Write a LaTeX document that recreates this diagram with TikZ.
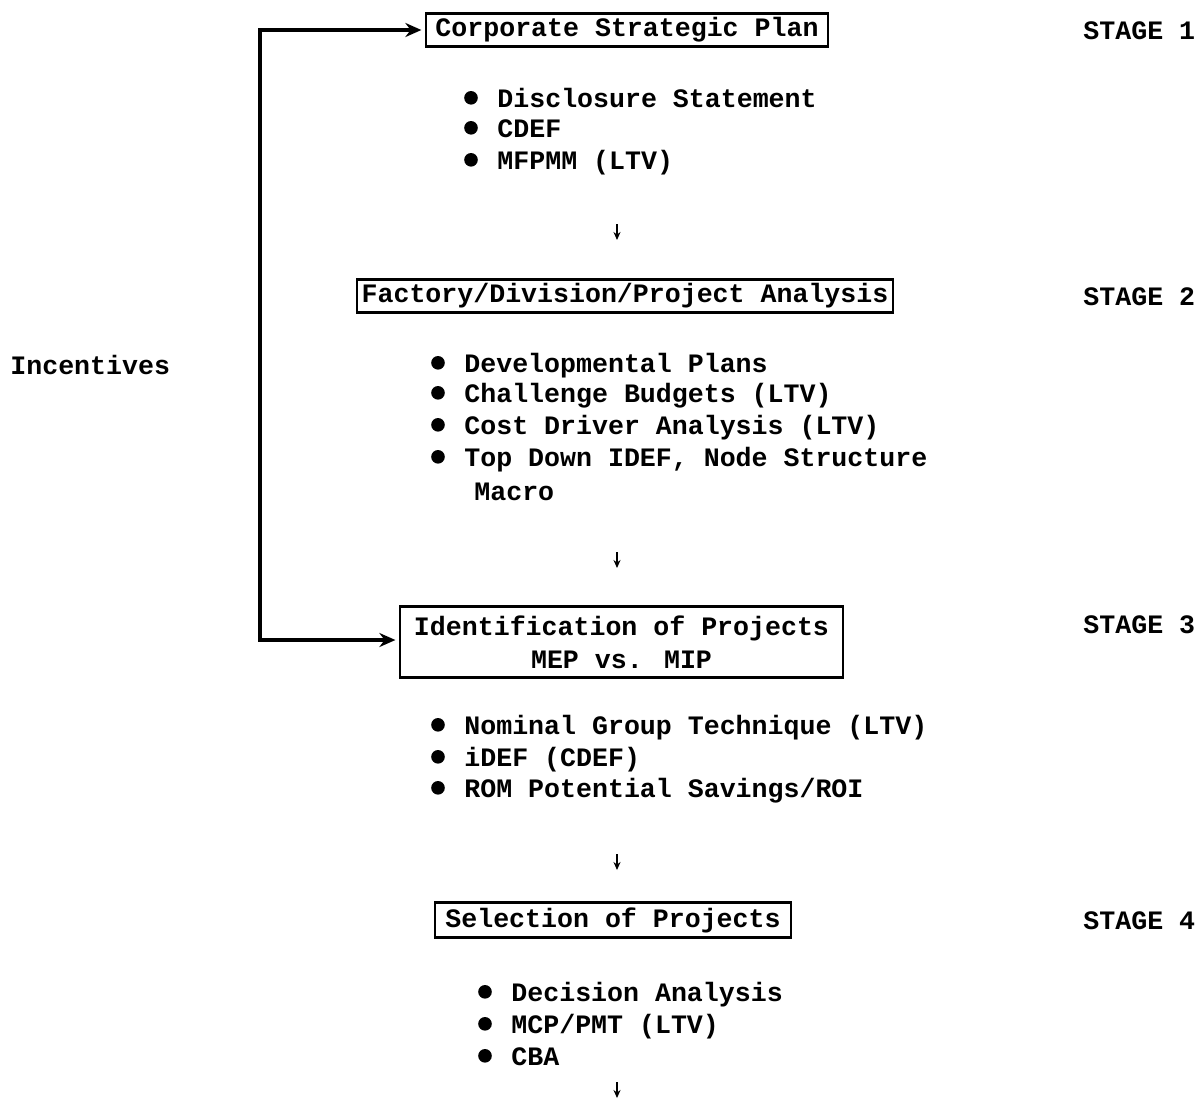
\documentclass[tikz,border=0pt]{standalone}
\usepackage{fontspec}
\setmainfont{Liberation Mono}
\usetikzlibrary{arrows.meta}

% one list entry: a text line with a round bullet in front of it
\newcommand\listline[4]{%
  \node[item] (#1) at (#2,#3) {#4};
  \fill ([xshift=-13pt,yshift=4.6pt]#1.base west) circle (3.4pt);
}

\begin{document}
\begin{tikzpicture}[x=0.5pt,y=-0.5pt,
  font=\fontsize{13.3}{16}\selectfont\bfseries,
  item/.style={anchor=base west, inner sep=0pt},
  label/.style={anchor=base west, inner sep=0pt},
  stagebox/.style={draw, line width=0.6pt, inner sep=0pt, align=center},
  rule/.style={line width=1.6pt},
  fb/.style={line width=1.7pt, -{Stealth[length=8pt,width=7pt]}, shorten >=2pt},
  tiny/.style={line width=0.8pt, -{Stealth[length=4pt,width=3.5pt]}}]

\useasboundingbox (0,0) rectangle (1197,1098);

% stage boxes
\node[stagebox, minimum width=201pt, minimum height=16pt] (b1) at (627,30) {Corporate Strategic Plan};
\node[stagebox, minimum width=268pt, minimum height=16pt] (b2) at (625,296) {Factory/Division/Project Analysis};
\node[stagebox, minimum width=221.5pt, minimum height=35pt,
      font=\fontsize{13.3}{16.5}\selectfont\bfseries] (b3) at (621.5,642) {Identification of Projects\\MEP vs. MIP};
\node[stagebox, minimum width=178pt, minimum height=17pt] (b4) at (613,920) {Selection of Projects};

\foreach \b in {b1,b2,b3,b4} {
  \draw[rule] (\b.north west) -- (\b.north east);
  \draw[rule] (\b.south west) -- (\b.south east);
}

% stage labels
\node[label] (s1) at (1083,39) {STAGE 1};
\node[label] (s2) at (1083,305) {STAGE 2};
\node[label] (s3) at (1083,633) {STAGE 3};
\node[label] (s4) at (1083,929) {STAGE 4};
\node[label] (inc) at (10,374) {Incentives};

% lists under each stage
\listline{a1}{497}{107}{Disclosure Statement}
\listline{a2}{497}{137}{CDEF}
\listline{a3}{497}{169}{MFPMM (LTV)}

\listline{c1}{464}{372}{Developmental Plans}
\listline{c2}{464}{402}{Challenge Budgets (LTV)}
\listline{c3}{464}{434}{Cost Driver Analysis (LTV)}
\listline{c4}{464}{466}{Top Down IDEF, Node Structure}
\node[item] (c5) at (474,500) {Macro};

\listline{d1}{464}{734}{Nominal Group Technique (LTV)}
\listline{d2}{464}{766}{iDEF (CDEF)}
\listline{d3}{464}{797}{ROM Potential Savings/ROI}

\listline{e1}{511}{1001}{Decision Analysis}
\listline{e2}{511}{1033}{MCP/PMT (LTV)}
\listline{e3}{511}{1065}{CBA}

% small downward arrows between stages
\foreach \i/\y in {1/224,2/552,3/854,4/1082} {
  \coordinate (t\i) at (617,\y);
  \coordinate (h\i) at (617,\y+16);
  \draw[tiny] (t\i) -- (h\i);
}

% incentives feedback loop
\coordinate (loop) at (260,340);
\draw[fb] (loop) |- (b1.west);
\draw[fb] (loop) |- ([yshift=1pt]b3.west);

\end{tikzpicture}
\end{document}
